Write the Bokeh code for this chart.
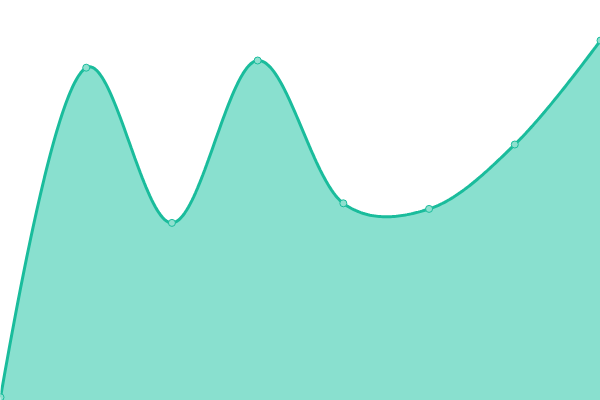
import numpy as np
from bokeh.plotting import figure
from bokeh.models import ColumnDataSource, Range1d
from bokeh.embed import file_html
from bokeh.resources import INLINE

# Data (8 evenly spaced points, value scale 0..100)
x_idx = [0, 1, 2, 3, 4, 5, 6, 7]
values = [0.8, 83.2, 44.4, 85, 49.3, 47.9, 64, 90]

W, H = 600, 400
X_MAX, Y_MAX = 7, 100

LINE = "#1abc9c"
FILL = "#89e0cf"


def _tangent(prev, cur, nxt, smooth=1.0, exp=0.25):
    d1 = prev - cur
    d2 = nxt - cur
    d1a = (d1 @ d1) ** (exp / 2)
    d2a = (d2 @ d2) ** (exp / 2)
    num = (d2a * d2a * d1 - d1a * d1a * d2) * smooth
    den1 = 3 * d2a * (d1a + d2a)
    den2 = 3 * d1a * (d1a + d2a)
    before = cur + (num / den1 if den1 else 0)
    after = cur - (num / den2 if den2 else 0)
    return before, after


def smooth_path(xs, ys, sx, sy, steps=48):
    """Smoothed open path through the points (control points in screen units)."""
    P = np.column_stack([np.asarray(xs, float) * sx, np.asarray(ys, float) * sy])
    n = len(P)
    tans = [_tangent(P[i - 1], P[i], P[i + 1]) for i in range(1, n - 1)]
    segs = []
    t = np.linspace(0, 1, steps)[:, None]
    q = tans[0][0]
    segs.append((1 - t) ** 2 * P[0] + 2 * (1 - t) * t * q + t ** 2 * P[1])
    for i in range(2, n - 1):
        a0, a1 = P[i - 1], P[i]
        c1, c2 = tans[i - 2][1], tans[i - 1][0]
        segs.append((1 - t) ** 3 * a0 + 3 * (1 - t) ** 2 * t * c1
                    + 3 * (1 - t) * t ** 2 * c2 + t ** 3 * a1)
    q = tans[n - 3][1]
    segs.append((1 - t) ** 2 * P[n - 2] + 2 * (1 - t) * t * q + t ** 2 * P[n - 1])
    out = np.vstack([s[:-1] for s in segs[:-1]] + [segs[-1]])
    return out[:, 0] / sx, out[:, 1] / sy


cx, cy = smooth_path(x_idx, values, W / X_MAX, H / Y_MAX)
curve = ColumnDataSource(dict(x=cx, y=cy))
pts = ColumnDataSource(dict(x=x_idx, y=values))

p = figure(width=W, height=H, output_backend="svg", toolbar_location=None,
           x_range=Range1d(0, X_MAX), y_range=Range1d(0, Y_MAX),
           min_border=0, outline_line_color=None)
p.axis.visible = False
p.grid.visible = False
p.background_fill_color = "white"
p.border_fill_color = "white"

p.varea(x="x", y1=0, y2="y", source=curve, fill_color=FILL, fill_alpha=1.0)
p.line(x="x", y="y", source=curve, line_color=LINE, line_width=3)
p.scatter(x="x", y="y", source=pts, size=7, marker="circle",
          fill_color="#8fe0cf", line_color=LINE, line_width=1)

open("out.html", "w").write(file_html(p, INLINE))
